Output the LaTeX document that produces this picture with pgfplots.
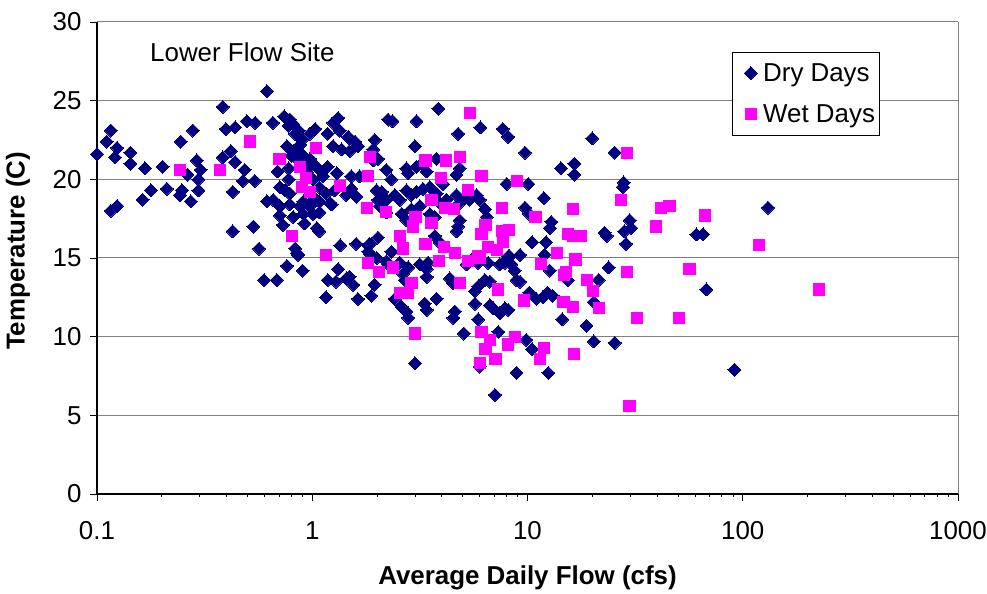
\documentclass[border=0pt]{standalone}
\usepackage{pgfplots}
\pgfplotsset{compat=1.18}
\usepackage{fontspec}
\setmainfont{Liberation Sans}
\definecolor{navyc}{RGB}{0,0,128}
\definecolor{magc}{RGB}{255,0,255}
\definecolor{gridc}{RGB}{128,128,128}
\pgfplotsset{myleg/.style={legend image code/.code={\path (0bp,0bp) (26bp,0bp); \draw[##1] plot coordinates {(16bp,0bp)};}}}
\begin{document}
\begin{tikzpicture}
\begin{axis}[
  at={(0,0)}, anchor=south west,
  scale only axis, width=861bp, height=472bp,
  xmode=log, xmin=0.1, xmax=1000, ymin=0, ymax=30,
  xtick={0.1,1,10,100,1000}, xticklabels={0.1,1,10,100,1000},
  ytick={0,5,10,15,20,25,30},
  minor xtick={}, minor tick num=0,
  axis x line=bottom, axis y line=left,
  axis line style={-, black, line width=1.2bp},
  tick align=outside, major tick length=7bp,
  tick style={black, line width=0.8bp},
  ymajorgrids, grid style={gridc, line width=1bp},
  /pgf/number format/assume math mode=true,
  tick label style={font=\fontsize{26}{30}\selectfont},
  yticklabel style={xshift=-5bp},
  xticklabel style={yshift=-17bp},
  xlabel={\bfseries Average Daily Flow (cfs)},
  ylabel={\bfseries Temperature (C)},
  label style={font=\fontsize{26}{30}\selectfont},
  xlabel style={at={(rel axis cs:0.5,0)}, anchor=center, yshift=-84bp},
  ylabel style={at={(axis description cs:-0.0918,0.515)}, anchor=center},
  legend style={at={(rel axis cs:0.7375,0.9364)}, anchor=north west,
    draw=black, line width=0.8bp, font=\fontsize{26}{30}\selectfont,
    inner xsep=2bp, inner ysep=9bp, row sep=18bp},
  legend cell align=left,
  clip=false,
]
\addplot[only marks, myleg, mark=square*, mark size=4.6, mark options={rotate=45, fill=navyc, draw=navyc, line width=0pt}] table {
x y
0.100 21.6
0.116 23.1
0.111 22.4
0.124 22.0
0.121 21.4
0.143 21.7
0.143 21.0
0.167 20.7
0.202 20.8
0.245 22.4
0.279 23.1
0.291 21.2
0.303 20.6
0.263 20.3
0.296 20.0
0.248 19.3
0.243 19.0
0.296 19.3
0.273 18.6
0.178 19.3
0.211 19.4
0.163 18.7
0.116 18.0
0.124 18.3
0.384 24.6
0.397 23.2
0.438 23.3
0.497 23.7
0.543 23.6
0.656 23.6
0.616 25.6
0.419 21.8
0.384 21.4
0.438 21.1
0.485 20.6
0.476 19.9
0.541 19.9
0.427 19.2
0.616 18.6
0.690 20.5
0.763 22.1
0.740 24.0
0.427 16.7
0.533 17.0
0.566 15.6
0.849 15.3
0.763 14.5
0.902 14.2
0.597 13.6
0.685 13.6
0.861 15.2
0.787 23.8
0.817 23.5
0.864 23.1
0.893 22.5
0.849 21.9
0.910 21.5
0.777 20.7
0.910 20.9
0.944 20.6
0.976 20.2
0.708 19.5
0.748 19.3
0.787 19.1
0.659 18.7
0.708 18.3
0.787 18.4
0.878 18.3
0.976 18.3
0.708 17.7
0.817 17.6
0.910 17.8
0.833 15.6
0.777 23.4
0.833 22.9
0.878 22.2
0.800 21.5
0.976 21.3
0.864 21.2
1.01 21.0
1.08 20.6
0.777 20.0
1.01 20.0
1.08 19.5
1.01 18.9
0.91 18.6
1.27 19.3
1.44 19.0
1.52 20.2
1.32 23.9
1.47 22.7
0.73 17.1
0.92 17.2
0.976 18.5
1.82 15.4
1.85 15.9
1.03 23.2
0.976 22.9
1.25 23.6
1.34 23.1
1.18 22.9
1.25 22.1
1.37 21.9
1.49 22.6
1.58 22.4
1.63 22.1
1.49 21.8
1.95 22.5
1.92 21.9
1.18 20.8
1.30 20.4
1.12 20.2
1.52 19.4
1.60 18.9
1.66 20.2
1.16 19.1
1.21 18.5
1.08 18.6
1.99 19.3
2.21 18.7
2.25 23.8
1.08 17.9
1.23 18.4
1.01 17.8
1.05 16.9
1.08 16.7
1.35 15.8
1.60 15.9
1.82 15.8
2.02 16.3
1.85 15.3
1.99 15.0
2.25 14.6
1.32 14.3
1.18 13.6
1.29 13.5
1.44 13.7
1.55 13.3
1.49 13.8
1.95 13.3
1.88 12.6
1.16 12.5
1.63 12.4
2.21 14.8
2.55 14.7
2.79 14.4
2.64 14.0
2.69 13.6
2.42 12.4
2.60 11.9
2.74 11.6
2.79 11.2
3.00 8.3
3.40 14.3
3.45 14.7
3.16 14.6
3.40 13.8
3.33 12.1
3.40 11.7
3.78 12.4
4.36 13.7
4.52 13.4
4.60 11.6
4.52 11.2
5.06 10.2
5.21 14.6
5.50 14.9
5.90 14.7
6.56 14.7
5.70 12.9
5.90 13.2
6.34 13.6
6.69 13.5
5.70 12.1
5.90 11.1
6.69 12.0
6.93 11.8
7.43 11.5
7.86 11.8
8.14 11.7
7.43 14.6
7.86 14.7
8.42 14.6
8.72 14.2
8.89 13.6
9.23 13.5
8.00 14.9
8.28 15.1
6.01 8.1
7.33 10.3
7.06 6.3
8.89 7.7
9.86 9.8
10.5 9.2
12.5 7.7
10.2 12.8
11.0 12.4
11.8 12.5
12.4 12.8
13.1 12.6
14.5 11.1
15.4 13.6
12.0 15.2
12.7 14.2
20.0 22.6
25.4 21.7
14.3 20.7
16.5 21.0
16.5 20.3
28.0 19.8
27.7 19.5
29.8 17.4
30.3 16.9
28.2 16.7
28.7 15.9
22.8 16.6
23.3 16.4
60.9 16.5
65.4 16.5
131 18.2
23.8 14.4
21.4 13.6
67.8 13.0
20.3 12.2
18.8 10.7
20.3 9.7
25.4 9.6
91.5 7.9
9.73 18.2
10.2 17.8
11.9 18.8
12.9 17.3
12.7 16.9
10.5 16.0
12.2 16.0
8.14 15.1
9.23 15.2
9.73 21.7
3.85 24.5
2.36 23.7
3.05 23.7
6.04 23.3
4.76 22.9
7.66 23.2
8.14 22.7
3.00 22.1
3.78 21.3
8.00 19.7
10.1 19.7
4.68 20.3
4.84 20.7
3.22 21.0
3.40 20.5
2.74 20.7
2.79 20.4
2.21 20.6
2.33 20.0
2.10 19.2
2.02 18.7
2.06 18.3
2.21 17.9
2.42 19.0
2.55 18.7
2.74 19.3
2.89 19.0
3.05 19.2
3.27 19.4
3.52 19.5
3.78 19.1
4.06 19.7
2.60 17.8
2.74 17.4
2.89 18.1
3.16 18.3
3.52 17.8
3.71 17.6
3.91 18.5
4.20 18.7
4.68 19.0
4.84 18.5
5.12 18.8
5.39 18.7
5.80 19.0
6.01 18.7
6.34 18.1
6.46 17.6
4.84 17.4
4.76 17.0
4.68 16.7
2.33 15.4
3.71 16.4
3.91 16.0
1.92 21.2
2.02 21.3
3.05 20.8
};
\addlegendentry{Dry Days}
\addplot[only marks, myleg, mark=square*, mark size=5.6, mark options={fill=magc, draw=magc, line width=0pt}] table {
x y
0.243 20.6
0.373 20.6
0.515 22.4
0.705 21.3
1.04 22.0
0.878 20.8
0.937 20.1
0.893 19.5
0.976 19.2
0.807 16.4
1.16 15.2
1.85 21.4
1.81 20.2
1.34 19.6
1.79 18.2
2.20 17.9
1.81 14.7
2.04 14.1
2.37 14.4
2.89 13.4
2.55 12.8
2.79 12.8
3.01 10.2
5.39 24.2
3.36 21.2
4.17 21.2
4.84 21.4
3.98 20.1
6.11 20.2
8.97 19.9
5.27 19.3
3.58 18.7
4.12 18.2
4.54 18.1
7.60 18.2
10.9 17.6
3.58 17.2
3.02 17.6
2.94 17.0
6.38 17.1
6.11 16.5
7.60 16.7
8.23 16.8
2.55 16.4
2.64 15.6
3.36 15.9
4.08 15.7
4.60 15.3
5.90 15.1
6.56 15.7
7.19 15.5
7.70 16.0
13.7 15.3
16.2 18.1
15.4 16.5
3.88 14.8
4.84 13.4
5.27 14.8
6.01 15.0
7.31 13.0
6.11 10.3
6.69 9.8
6.38 9.2
6.01 8.3
7.10 8.6
8.09 9.5
8.78 10.0
9.63 12.3
11.9 9.3
11.4 8.6
11.6 14.6
14.8 13.9
14.7 12.2
29.1 21.7
27.2 18.7
41.7 18.2
45.7 18.3
67.0 17.7
39.4 17.0
16.2 16.4
17.8 16.4
119 15.8
16.7 14.9
15.1 14.1
29.1 14.1
56.6 14.3
18.9 13.6
20.1 12.9
226 13.0
16.2 11.9
21.4 11.8
32.3 11.2
50.5 11.2
16.4 8.9
29.8 5.6
};
\addlegendentry{Wet Days}
\draw[gridc, line width=1bp] (rel axis cs:1,0) -- (rel axis cs:1,1);
\node[anchor=west, inner sep=0pt, font=\fontsize{26}{30}\selectfont] at (rel axis cs:0.0616,0.9364) {Lower Flow Site};
\end{axis}
\pgfresetboundingbox
\path[use as bounding box] (-97bp,-100bp) rectangle (890bp,494bp);
\end{tikzpicture}
\end{document}
